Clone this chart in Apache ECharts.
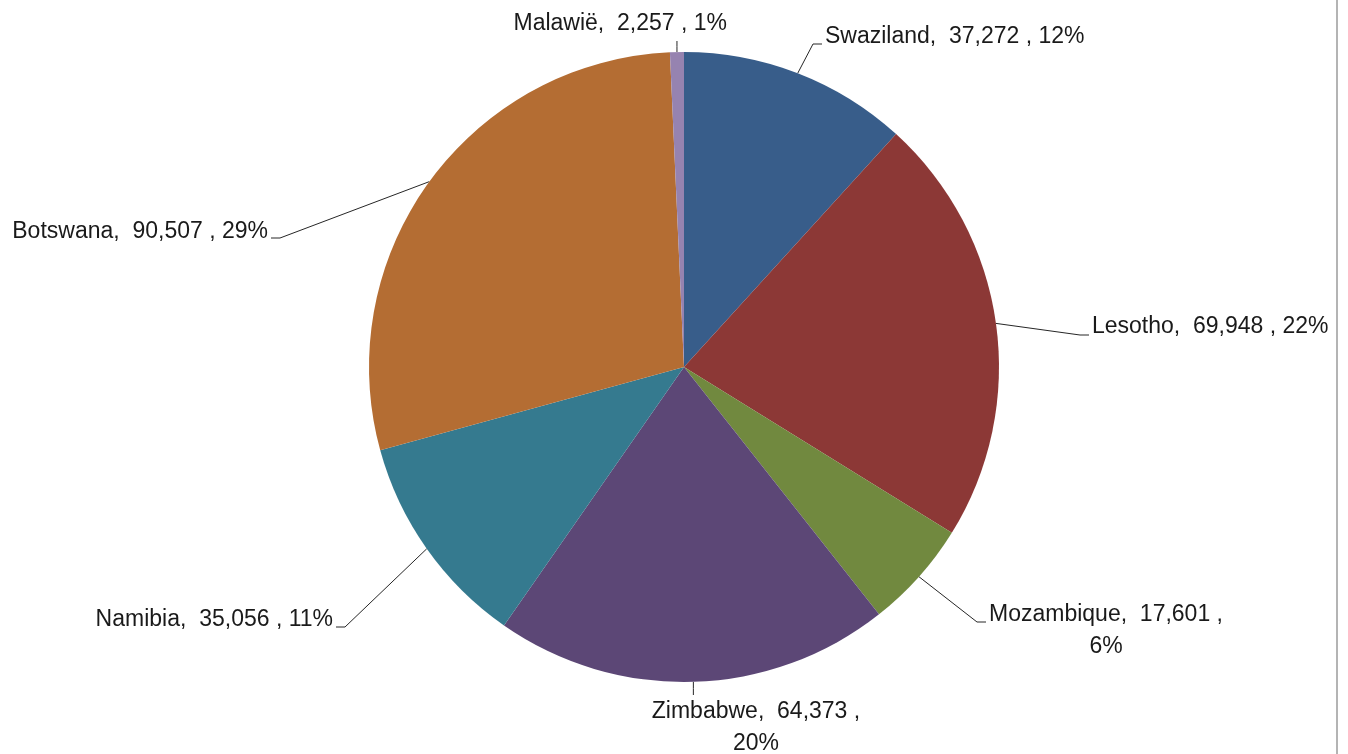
<!DOCTYPE html>
<html>
<head>
<meta charset="utf-8">
<script src="https://cdn.jsdelivr.net/npm/echarts@6/dist/echarts.min.js"></script>
<style>
  html, body { margin: 0; padding: 0; background: #fff; }
  #chart { width: 1348px; height: 754px; }
</style>
</head>
<body>
<div id="chart"></div>
<script>
// data
var countries = ['Swaziland', 'Lesotho', 'Mozambique', 'Zimbabwe', 'Namibia', 'Botswana', 'Malawië'];
var people = [37272, 69948, 17601, 64373, 35056, 90507, 2257];
var sliceColors = ['#385d8a', '#8c3836', '#71893f', '#5c4776', '#357a8f', '#b46d33', '#9683b0'];
// these labels wrap onto a second line
var wrapped = ['Mozambique', 'Zimbabwe'];

// where each label sits (anchor point of the text) and which edge the leader joins
var labelPos = {
    'Swaziland':  { x: 825,  y: 37,  align: 'left',   side: 'left',   dy: 7 },
    'Lesotho':    { x: 1092, y: 327, align: 'left',   side: 'left',   dy: 8 },
    'Mozambique': { x: 1106, y: 631, align: 'center', side: 'left',   dy: -9 },
    'Zimbabwe':   { x: 756,  y: 728, align: 'center', side: 'top',    dy: 0 },
    'Namibia':    { x: 333,  y: 620, align: 'right',  side: 'right',  dy: 7 },
    'Botswana':   { x: 268,  y: 232, align: 'right',  side: 'right',  dy: 6 },
    'Malawië':    { x: 727,  y: 24,  align: 'right',  side: 'bottom', dy: 0 }
};

function fmtLabel(p) {
    var txt = p.name + ',  ' + p.value.toLocaleString('en-US') + ' ,';
    var pct = Math.round(p.percent) + '%';
    if (wrapped.indexOf(p.name) >= 0) return txt + '\n' + pct;
    return txt + ' ' + pct;
}

function placeLabel(params) {
    var name = countries[params.dataIndex];
    var lp = labelPos[name];
    var w = params.labelRect.width, h = params.labelRect.height;
    var left = lp.align === 'left' ? lp.x : (lp.align === 'right' ? lp.x - w : lp.x - w / 2);
    var top = lp.y - h / 2;
    var pts = params.labelLinePoints;
    var a = pts[0];
    var end, mid;
    var stub = 9;
    if (lp.side === 'left') {
        end = [left - 3, lp.y + lp.dy];
        mid = [end[0] - stub, end[1]];
    } else if (lp.side === 'right') {
        end = [left + w + 3, lp.y + lp.dy];
        mid = [end[0] + stub, end[1]];
    } else if (lp.side === 'top') {
        end = [a[0], top - 1];
        mid = [a[0], (a[1] + end[1]) / 2];
    } else {
        end = [a[0], top + h + 1];
        mid = [a[0], (a[1] + end[1]) / 2];
    }
    return {
        x: lp.x,
        y: lp.y,
        align: lp.align,
        verticalAlign: 'middle',
        labelLinePoints: [a, mid, end]
    };
}

var chart = echarts.init(document.getElementById('chart'));

var pieData = [];
for (var i = 0; i < countries.length; i++) {
    pieData.push({ name: countries[i], value: people[i], itemStyle: { color: sliceColors[i] } });
}

chart.setOption({
    backgroundColor: '#ffffff',
    animation: false,
    graphic: [{
        type: 'line',
        shape: { x1: 1337, y1: 0, x2: 1337, y2: 754 },
        style: { stroke: '#b4b4b4', lineWidth: 2 }
    }],
    series: [{
        type: 'pie',
        center: [684, 367],
        radius: 315,
        startAngle: 90,
        clockwise: true,
        avoidLabelOverlap: false,
        itemStyle: { borderWidth: 0 },
        label: {
            show: true,
            position: 'outside',
            formatter: fmtLabel,
            fontFamily: 'Liberation Sans, Arial, sans-serif',
            fontSize: 23,
            lineHeight: 32,
            color: '#1a1a1a'
        },
        labelLine: {
            show: true,
            length: 20,
            length2: 10,
            lineStyle: { color: '#262626', width: 1 }
        },
        labelLayout: placeLabel,
        emphasis: { disabled: true },
        data: pieData
    }]
});
</script>
</body>
</html>
